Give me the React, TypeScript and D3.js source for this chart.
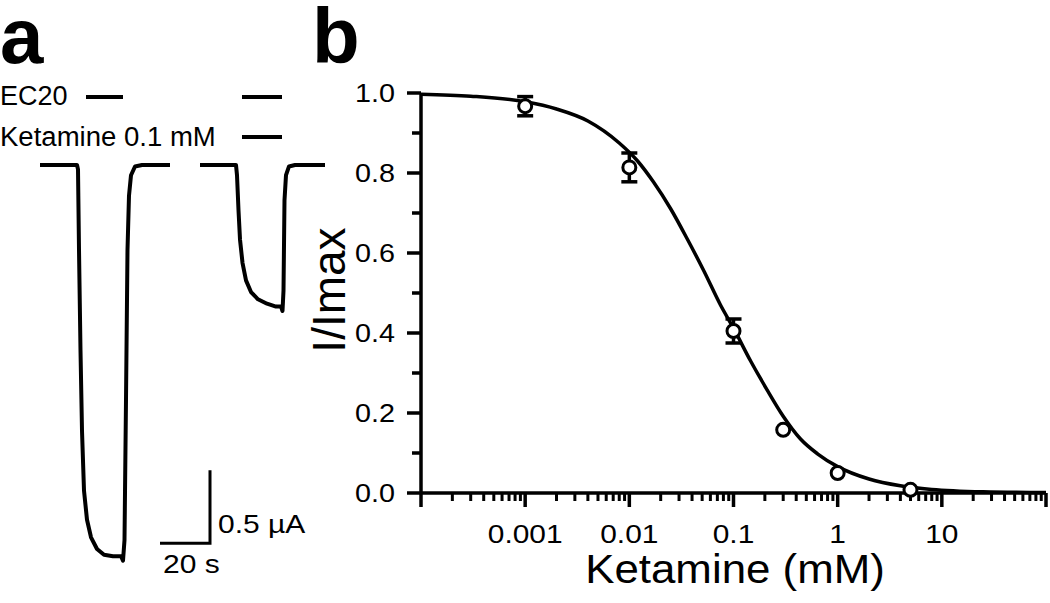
import React from 'react';
import * as d3 from 'd3';

// panel a: current traces (time in s, current in µA)
const controlTime = [0, 14.8, 15.2, 15.6, 16.2, 16.8, 17.6, 18.8, 20.4, 22.8, 25.6, 29.2, 32.4, 33.2, 33.8, 34.4, 35, 35.6, 36.4, 38, 40.8, 52];
const controlCurrent = [0, 0, -0.03, -0.58, -1.27, -1.82, -2.23, -2.43, -2.55, -2.63, -2.67, -2.68, -2.68, -2.71, -2.57, -1.61, -0.58, -0.21, -0.07, -0.01, 0, 0];
const ketTime = [64, 78.4, 78.8, 79.4, 80, 81, 82.4, 84.4, 87.2, 90.8, 94.4, 96.4, 97, 97.4, 97.8, 98.4, 99.6, 102, 114];
const ketCurrent = [0, 0, -0.07, -0.31, -0.51, -0.67, -0.79, -0.87, -0.92, -0.95, -0.97, -0.97, -1.0, -0.86, -0.24, -0.07, -0.01, 0, 0];
const ec20Bars = [[18.4, 33.2], [80.8, 96.8]];
const ketBars = [[80.8, 96.8]];
const scaleBarTime = 20;
const scaleBarCurrent = 0.5;

// panel b: concentration-response
const concentrations = [0.001, 0.01, 0.1, 0.3, 1, 5];
const meanResponse = [0.967, 0.814, 0.405, 0.158, 0.05, 0.008];
const semResponse = [0.024, 0.036, 0.03, 0, 0, 0];
const fitConc = [0.0001, 0.0003, 0.001, 0.002, 0.004, 0.008, 0.012, 0.017, 0.025, 0.036, 0.052, 0.075, 0.1, 0.146, 0.21, 0.3, 0.44, 0.64, 1, 2, 4, 8, 25, 100];
const fitResponse = [0.997, 0.992, 0.978, 0.96, 0.93, 0.875, 0.83, 0.778, 0.71, 0.635, 0.555, 0.47, 0.412, 0.33, 0.258, 0.192, 0.135, 0.098, 0.066, 0.035, 0.018, 0.009, 0.003, 0.001];
const xTickLabels = ['0.001', '0.01', '0.1', '1', '10'];
const yTickLabels = ['0.0', '0.2', '0.4', '0.6', '0.8', '1.0'];

const FONT = '"Liberation Sans", Arial, Helvetica, sans-serif';
const SW = 3.5;

function Txt({ x, y, size, sx = 1, anchor = 'start', rotate = 0, weight = 'normal', children }: any) {
  return (
    <text
      transform={`translate(${x},${y}) rotate(${rotate}) scale(${sx},1)`}
      fontFamily={FONT}
      fontSize={size}
      fontWeight={weight}
      textAnchor={anchor}
      fill="#000"
    >
      {children}
    </text>
  );
}

export default function App() {
  // panel a scales
  const t = d3.scaleLinear().domain([0, 20]).range([40, 90]);
  const cur = d3.scaleLinear().domain([0, -1]).range([165, 311]);
  const makeTrace = (times: number[], vals: number[]) =>
    d3.line<number>().x((d) => t(d)).y((_, i) => cur(vals[i]))(times) || '';

  // panel b scales
  const x = d3.scaleLog().domain([1e-4, 100]).range([421, 1046]);
  const y = d3.scaleLinear().domain([0, 1]).range([493, 93]);
  const fitPath = d3.line<number>()
    .x((d) => x(d))
    .y((_, i) => y(fitResponse[i]))
    .curve(d3.curveMonotoneX)(fitConc) || '';

  const decades = d3.range(-4, 3).map((e) => Math.pow(10, e));
  const minors: number[] = [];
  decades.slice(0, -1).forEach((dec) => {
    for (let k = 2; k <= 9; k++) minors.push(dec * k);
  });
  const yMajors = d3.range(0, 6).map((i) => i * 0.2);
  const yMinors = d3.range(0, 5).map((i) => i * 0.2 + 0.1);

  // scale bar corner (time, current)
  const sbT0 = 48;
  const sbI0 = -2.59;

  return (
    <svg width={1050} height={603} style={{ display: 'block', position: 'absolute', left: 0, top: 0 }}>
      <rect width={1050} height={603} fill="#fff" />
      {/* panel letters */}
      <Txt x={0} y={63} size={78} weight="bold">a</Txt>
      <Txt x={312} y={63} size={78} weight="bold">b</Txt>

      {/* panel a */}
      <Txt x={0} y={105} size={27}>EC20</Txt>
      <Txt x={0} y={146} size={27} sx={1.02}>Ketamine 0.1 mM</Txt>
      {ec20Bars.map((b, i) => (
        <line key={'e' + i} x1={t(b[0])} x2={t(b[1])} y1={97} y2={97} stroke="#000" strokeWidth={4} />
      ))}
      {ketBars.map((b, i) => (
        <line key={'k' + i} x1={t(b[0])} x2={t(b[1])} y1={137} y2={137} stroke="#000" strokeWidth={4} />
      ))}
      <path d={makeTrace(controlTime, controlCurrent)} fill="none" stroke="#000" strokeWidth={4} strokeLinejoin="round" />
      <path d={makeTrace(ketTime, ketCurrent)} fill="none" stroke="#000" strokeWidth={4} strokeLinejoin="round" />
      <path
        d={`M${t(sbT0)},${cur(sbI0)}H${t(sbT0 + scaleBarTime)}V${cur(sbI0 + scaleBarCurrent)}`}
        fill="none"
        stroke="#000"
        strokeWidth={3}
      />
      <Txt x={t(sbT0 + scaleBarTime) + 8} y={cur(sbI0) - 10} size={25} sx={1.2}>0.5 µA</Txt>
      <Txt x={t(sbT0) + 3} y={cur(sbI0) + 30} size={25} sx={1.2}>20 s</Txt>

      {/* panel b axes */}
      <line x1={x(1e-4)} x2={x(100)} y1={y(0)} y2={y(0)} stroke="#000" strokeWidth={SW} />
      <line x1={x(1e-4)} x2={x(1e-4)} y1={y(1)} y2={y(0)} stroke="#000" strokeWidth={SW} />
      {decades.map((d, i) => (
        <line key={'xd' + i} x1={x(d)} x2={x(d)} y1={y(0)} y2={y(0) + 14} stroke="#000" strokeWidth={SW} />
      ))}
      {minors.map((d, i) => (
        <line key={'xm' + i} x1={x(d)} x2={x(d)} y1={y(0)} y2={y(0) + 8} stroke="#000" strokeWidth={3} />
      ))}
      {xTickLabels.map((lab, i) => (
        <Txt key={'xl' + i} x={x(decades[i + 1])} y={y(0) + 50} size={26} sx={1.15} anchor="middle">{lab}</Txt>
      ))}
      {yMajors.map((v, i) => (
        <g key={'ym' + i}>
          <line x1={x(1e-4) - 14} x2={x(1e-4)} y1={y(v)} y2={y(v)} stroke="#000" strokeWidth={SW} />
          <Txt x={x(1e-4) - 26} y={y(v) + 9} size={25} sx={1.15} anchor="end">{yTickLabels[i]}</Txt>
        </g>
      ))}
      {yMinors.map((v, i) => (
        <line key={'yn' + i} x1={x(1e-4) - 9} x2={x(1e-4)} y1={y(v)} y2={y(v)} stroke="#000" strokeWidth={SW} />
      ))}
      <Txt x={735} y={583} size={41} sx={1.07} anchor="middle">Ketamine (mM)</Txt>
      <Txt x={345} y={290} size={46} anchor="middle" rotate={-90}>I/Imax</Txt>

      {/* fit curve */}
      <path d={fitPath} fill="none" stroke="#000" strokeWidth={SW} />

      {/* data */}
      {concentrations.map((c, i) => (
        <g key={'p' + i}>
          {semResponse[i] > 0 && (
            <g stroke="#000" strokeWidth={3.5}>
              <line x1={x(c)} x2={x(c)} y1={y(meanResponse[i] - semResponse[i])} y2={y(meanResponse[i] + semResponse[i])} />
              <line x1={x(c) - 8} x2={x(c) + 8} y1={y(meanResponse[i] - semResponse[i])} y2={y(meanResponse[i] - semResponse[i])} />
              <line x1={x(c) - 8} x2={x(c) + 8} y1={y(meanResponse[i] + semResponse[i])} y2={y(meanResponse[i] + semResponse[i])} />
            </g>
          )}
          <circle cx={x(c)} cy={y(meanResponse[i])} r={6.5} fill="#fff" stroke="#000" strokeWidth={3} />
        </g>
      ))}
    </svg>
  );
}
